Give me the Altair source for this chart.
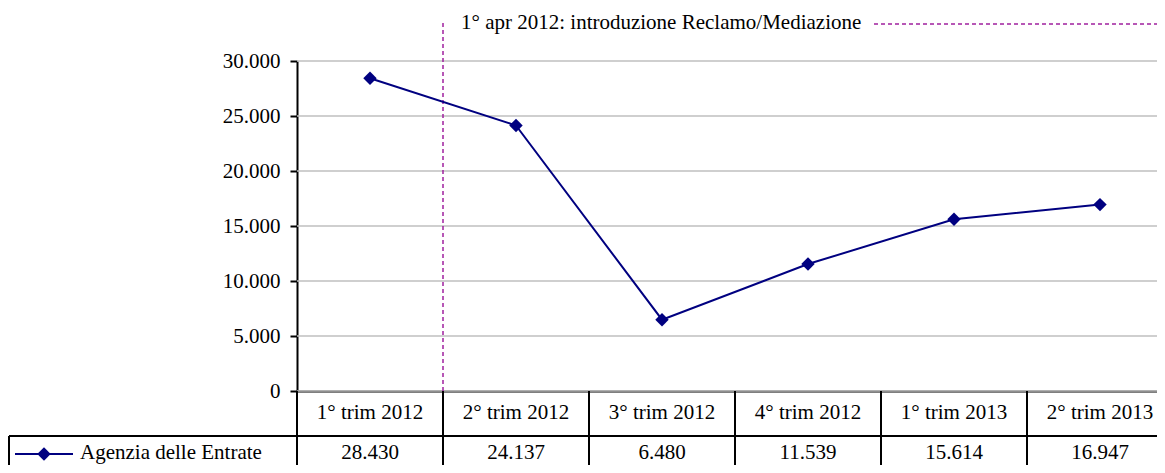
import altair as alt
import pandas as pd

categories = ["1° trim 2012", "2° trim 2012", "3° trim 2012", "4° trim 2012", "1° trim 2013", "2° trim 2013"]
values = [28430, 24137, 6480, 11539, 15614, 16947]
series_name = "Agenzia delle Entrate"
y_ticks = [0, 5000, 10000, 15000, 20000, 25000, 30000]
event_category = "2° trim 2012"
event_text = "1° apr 2012: introduzione Reclamo/Mediazione"

FONT = "Liberation Serif"
NAVY = "#000080"
PURPLE = "#A0219F"
FS = 21

df = pd.DataFrame({"cat": categories, "v": values})
ev = pd.DataFrame({"cat": [event_category], "t": [event_text]})
one = pd.DataFrame({"name": [series_name]})
grid_df = pd.DataFrame({"g": y_ticks})

W, H = 860, 330       # visible plot area (page is 1165 wide)
XR = 876              # category scale runs past the visible edge, as in the original
ROW2 = H + 62         # centre of the values row

xscale = alt.Scale(type="band", domain=categories, paddingInner=0, paddingOuter=0, range=[0, XR])
yscale = alt.Scale(domain=[0, 30000], nice=False)

x_axis = alt.Axis(title=None, labelAngle=0, labelFont=FONT, labelFontSize=FS, labelColor="black",
                  labelPadding=21, labelBaseline="middle", ticks=False, tickSize=0,
                  domainColor="black", domainWidth=2, grid=False, labelOverlap=False)
y_axis = alt.Axis(title=None, values=y_ticks, labelFont=FONT, labelFontSize=FS, labelColor="black",
                  labelPadding=10, tickSize=7, tickColor="black", tickWidth=2,
                  domainColor="black", domainWidth=2, grid=False,
                  labelExpr="replace(format(datum.value, ','), ',', '.')")

base = alt.Chart(df)

grid = alt.Chart(grid_df).mark_rule(color="#BFBFBF", strokeWidth=1.5).encode(
    y=alt.Y("g:Q", scale=yscale, axis=y_axis),
    x=alt.value(0), x2=alt.value(XR),
)

line = base.mark_line(color=NAVY, strokeWidth=2).encode(
    x=alt.X("cat:N", scale=xscale, axis=x_axis),
    y=alt.Y("v:Q", scale=yscale, axis=y_axis),
)
pts = base.mark_point(shape="diamond", filled=True, size=180, color=NAVY, opacity=1).encode(
    x=alt.X("cat:N", scale=xscale, axis=x_axis),
    y=alt.Y("v:Q", scale=yscale, axis=y_axis),
)

# event marker (dashed vertical line at the start of 2° trim 2012)
ev_rule = alt.Chart(ev).mark_rule(color=PURPLE, strokeDash=[4, 3], strokeWidth=1.5).encode(
    x=alt.X("cat:N", scale=xscale, axis=x_axis, bandPosition=0),
    y=alt.value(-38), y2=alt.value(H),
)
ev_text = alt.Chart(ev).mark_text(font=FONT, fontSize=FS, align="left", baseline="middle", dx=18, color="black").encode(
    x=alt.X("cat:N", scale=xscale, axis=x_axis, bandPosition=0),
    y=alt.value(-38), text="t:N",
)
ev_legend = alt.Chart(ev).mark_rule(color=PURPLE, strokeDash=[4, 3], strokeWidth=1.5).encode(
    x=alt.value(577), x2=alt.value(863), y=alt.value(-37),
)

# data table
col_lines = base.mark_rule(color="black", strokeWidth=2).encode(
    x=alt.X("cat:N", scale=xscale, axis=x_axis, bandPosition=0),
    y=alt.value(H), y2=alt.value(H + 90),
)
vals = base.transform_calculate(
    lab="replace(format(datum.v, ','), ',', '.')"
).mark_text(font=FONT, fontSize=FS, baseline="middle", color="black").encode(
    x=alt.X("cat:N", scale=xscale, axis=x_axis),
    y=alt.value(ROW2), text="lab:N",
)
row_sep = alt.Chart(one).mark_rule(color="black", strokeWidth=2).encode(
    x=alt.value(-288), x2=alt.value(XR), y=alt.value(H + 45),
)
leg_border = alt.Chart(one).mark_rule(color="black", strokeWidth=2).encode(
    x=alt.value(-288), y=alt.value(H + 45), y2=alt.value(H + 90),
)
leg_line = alt.Chart(one).mark_rule(color=NAVY, strokeWidth=2).encode(
    x=alt.value(-282), x2=alt.value(-224), y=alt.value(ROW2 + 1),
)
leg_pt = alt.Chart(one).mark_point(shape="diamond", filled=True, size=180, color=NAVY, opacity=1).encode(
    x=alt.value(-253), y=alt.value(ROW2 + 1),
)
leg_text = alt.Chart(one).mark_text(font=FONT, fontSize=FS, align="left", baseline="middle", color="black").encode(
    x=alt.value(-217), y=alt.value(ROW2), text="name:N",
)

chart = alt.layer(
    grid, ev_rule, ev_text, ev_legend, col_lines, row_sep, leg_border, vals,
    leg_line, leg_pt, leg_text, line, pts,
).properties(
    width=W, height=H,
    autosize=alt.AutoSizeParams(type="none"),
    padding={"left": 289, "top": 53, "right": 0, "bottom": 74},
    background="white",
).configure_view(stroke=None)

chart.save("out.html", embed_options={"renderer": "svg", "actions": False})
